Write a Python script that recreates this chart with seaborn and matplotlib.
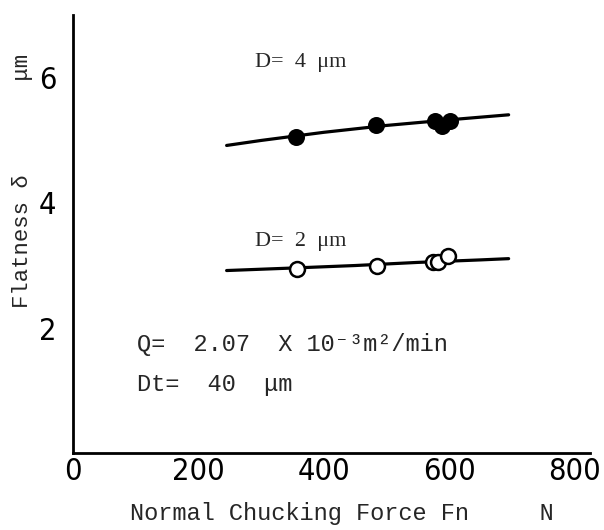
import numpy as np
import pandas as pd
import matplotlib
matplotlib.use("Agg")
import matplotlib.pyplot as plt
import seaborn as sns

fn_4um = [356, 483, 577, 588, 601]
flat_4um = [5.06, 5.25, 5.31, 5.23, 5.31]
fn_2um = [357, 485, 574, 582, 598]
flat_2um = [2.95, 2.99, 3.05, 3.05, 3.16]

# hand drawn trend curves
curve_x_4um = [245, 300, 400, 500, 600, 695]
curve_y_4um = [4.92, 5.00, 5.13, 5.24, 5.33, 5.41]
curve_x_2um = [245, 350, 450, 550, 650, 695]
curve_y_2um = [2.92, 2.96, 3.00, 3.05, 3.09, 3.11]

x_ticks = [0, 200, 400, 600, 800]
y_ticks = [2, 4, 6]

sns.set_theme(style="white")
plt.rcParams['font.family'] = ['DejaVu Sans']

pts = pd.DataFrame({
    "Fn": fn_4um + fn_2um,
    "flat": flat_4um + flat_2um,
    "D": ["4"] * len(fn_4um) + ["2"] * len(fn_2um),
})
curves = pd.DataFrame({
    "Fn": curve_x_4um + curve_x_2um,
    "flat": curve_y_4um + curve_y_2um,
    "D": ["4"] * len(curve_x_4um) + ["2"] * len(curve_x_2um),
})

fig = plt.figure(figsize=(6.04, 5.30), dpi=100)
ax = fig.add_axes([0.121, 0.145, 0.856, 0.826])

for d in ["4", "2"]:
    c = curves[curves.D == d]
    sns.lineplot(x=np.array(c.Fn), y=np.array(c.flat), ax=ax, color="black",
                 linewidth=2.3, sort=True)

p4 = pts[pts.D == "4"]
p2 = pts[pts.D == "2"]
sns.scatterplot(x=p4.Fn, y=p4.flat, ax=ax, color="black", s=150,
                edgecolor="black", linewidth=0, zorder=5)
sns.scatterplot(x=p2.Fn, y=p2.flat, ax=ax, facecolor="white", s=115,
                edgecolor="black", linewidth=1.8, zorder=5)

ax.set_xlim(0, 825)
ax.set_ylim(0, 7.0)
ax.set_xticks(x_ticks)
ax.set_yticks(y_ticks)
tick_font = dict(family="DejaVu Sans", stretch="condensed", size=22)
ax.set_xticklabels([str(v) for v in x_ticks], fontdict=tick_font)
ax.set_yticklabels([str(v) for v in y_ticks], fontdict=tick_font)
ax.tick_params(axis="both", direction="in", length=7, width=1.5,
               colors="black")
ax.tick_params(axis="x", pad=3)
ax.tick_params(axis="y", pad=12)

for side in ["top", "right"]:
    ax.spines[side].set_visible(False)
for side in ["left", "bottom"]:
    ax.spines[side].set_color("black")
    ax.spines[side].set_linewidth(2)

mono = ["Liberation Mono", "DejaVu Sans Mono"]
ax.set_xlabel("Normal Chucking Force Fn     N", family=mono, fontsize=17)
ax.xaxis.set_label_coords(0.52, -0.112)
ax.set_ylabel("Flatness δ       μm", family=mono, fontsize=16)
ax.yaxis.set_label_coords(-0.078, 0.622)

ax.text(290, 6.25, "D=  4  μm", family="Liberation Serif", fontsize=16,
        va="center")
ax.text(290, 3.38, "D=  2  μm", family="Liberation Serif", fontsize=16,
        va="center")
ax.text(102, 1.73, "Q=  2.07  X 10⁻³m²/min", family=mono,
        fontsize=17, va="center")
ax.text(102, 1.09, "Dt=  40  μm", family=mono, fontsize=17,
        va="center")

fig.savefig("out.png", dpi=100)
